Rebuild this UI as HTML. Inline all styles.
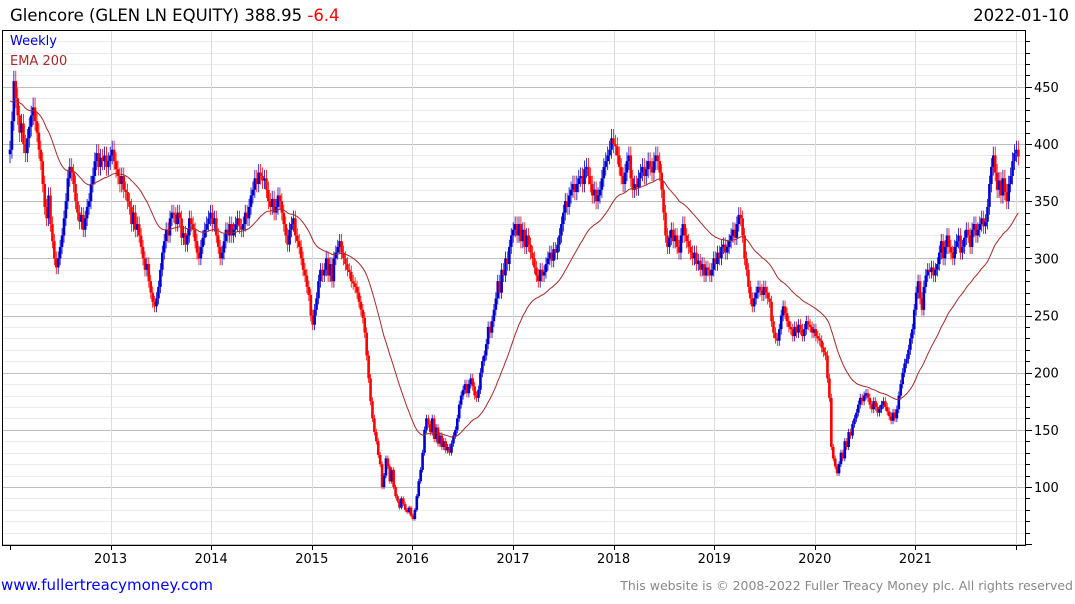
<!DOCTYPE html>
<html><head><meta charset="utf-8">
<style>
body{margin:0;background:#fff;width:1075px;height:600px;overflow:hidden;font-family:"DejaVu Sans",sans-serif}
svg text{font-family:"DejaVu Sans",sans-serif}
</style></head>
<body>
<svg id="chart" width="1075" height="600" xmlns="http://www.w3.org/2000/svg">
<text x="10" y="21" font-size="16.5" fill="#000">Glencore (GLEN LN EQUITY) 388.95 <tspan fill="#ff0000">-6.4</tspan></text>
<text x="1069" y="21" font-size="16.5" text-anchor="end" fill="#000">2022-01-10</text>
<g id="grid"></g>
<g id="candles"></g>
<path id="ema" fill="none" stroke="#a52a2a" stroke-width="1"></path>
<rect x="2.5" y="30.5" width="1023" height="515" fill="none" stroke="#000" stroke-width="1"/>
<g id="axes"></g>
<text x="10" y="45" font-size="13" fill="#0000cc">Weekly</text>
<text x="10" y="65" font-size="13" fill="#a52a2a">EMA 200</text>
<text x="1" y="590" font-size="15" fill="#0000ff">www.fullertreacymoney.com</text>
<text x="1073" y="590" font-size="12.5" text-anchor="end" fill="#888">This website is © 2008-2022 Fuller Treacy Money plc. All rights reserved</text>
</svg>
<script>
const y2012=[395,420,455,440,425,410,418,400,392,405,415,425,432,420,410,395,385,365,345,335,355,330,315,300,292,300,310,320,335,350,370,380,375,365,350,340,332,338,325,335,345,350,365,372,385,392,380,388,385,390,380,385];
const y2013=[390,395,385,378,372,365,372,360,358,350,345,330,340,325,330,320,310,300,290,295,280,270,262,258,265,275,290,305,315,325,320,335,340,338,330,340,335,318,322,312,320,335,330,325,315,305,300,310,318,325,330,335];
const y2014=[340,330,335,320,310,300,305,315,325,320,330,320,325,330,335,328,325,330,340,335,345,355,360,370,365,375,372,368,370,360,350,345,352,340,345,355,350,340,330,320,312,325,330,335,320,315,310,300,290,285,275,268];
const y2015=[250,242,255,265,280,290,285,290,300,285,295,280,300,305,310,315,305,300,295,290,288,280,278,275,270,262,255,248,235,215,195,175,160,148,140,128,120,100,110,125,118,105,115,100,92,88,82,90,85,80,78,82];
const y2016=[75,72,80,92,105,115,130,150,160,155,148,160,142,152,138,145,135,140,132,135,130,138,145,150,160,172,180,185,190,182,190,195,188,180,178,185,200,210,215,225,240,235,245,255,265,280,270,290,285,300,295,310];
const y2017=[320,325,330,320,330,315,325,310,320,312,305,300,292,285,280,290,285,288,295,300,305,298,308,305,312,320,330,340,350,345,355,360,365,358,365,370,372,365,378,380,372,365,355,360,350,355,360,370,380,385,390,395];
const y2018=[405,400,398,390,380,372,365,375,385,390,370,360,365,362,370,375,380,372,378,385,380,375,385,390,385,375,360,340,320,310,318,325,315,320,310,305,320,330,320,315,310,305,300,305,295,298,290,295,285,292,290,285];
const y2019=[290,300,295,305,300,310,312,305,310,315,320,325,318,330,338,335,320,300,290,275,265,258,265,270,275,272,268,275,270,265,262,245,235,230,228,238,250,258,252,245,240,238,232,240,235,242,238,232,238,245,242,240];
const y2020=[235,238,232,230,228,222,218,215,195,178,135,125,118,112,120,130,125,140,135,148,145,155,160,165,172,178,175,180,182,178,172,168,175,170,165,168,172,175,170,166,162,158,165,160,168,180,190,200,208,212,220,230];
const y2021=[238,255,270,280,265,255,275,285,290,288,292,285,290,295,305,315,300,310,320,310,305,300,310,315,320,305,310,318,325,320,310,325,330,320,325,330,335,328,332,345,365,380,390,375,360,368,355,370,358,350,365,372];
const y2022=[385,392,395,388.95];
const closes=[].concat(y2012,y2013,y2014,y2015,y2016,y2017,y2018,y2019,y2020,y2021,y2022);
const yTicks=[100,150,200,250,300,350,400,450];
const yearLabels=["2013","2014","2015","2016","2017","2018","2019","2020","2021"];
const NS="http://www.w3.org/2000/svg";
const yScale=v=>487-(v-100)*1.1433;
const xYear=yr=>10+(yr-2012)*100.6;
const xWeek=i=>10+i*1.928;
function mk(tag,attrs,parent){const e=document.createElementNS(NS,tag);for(const k in attrs)e.setAttribute(k,attrs[k]);parent.appendChild(e);return e;}
const grid=document.getElementById('grid'),axes=document.getElementById('axes'),cg=document.getElementById('candles');
for(let v=50;v<=500;v+=10){const y=Math.round(yScale(v))+0.5;if(y<31||y>545)continue;
 const major=v%50===0;
 const l=mk('line',{x1:3,x2:1026,y1:y,y2:y,stroke:major?'#bdbdbd':'#ebebeb','stroke-width':1},grid);
 
 
 const t=mk('line',{x1:1026,x2:major?1032:1030,y1:y,y2:y,stroke:'#000','stroke-width':1},axes);
 
 
}
yTicks.forEach(v=>{const t=mk('text',{x:1034,y:yScale(v)+5,'font-size':13,fill:'#000'},axes);t.textContent=v;
 
 });
for(let yr=2012;yr<=2022;yr++){const x=Math.round(xYear(yr))+0.5;
 if(yr>2012){const g=mk('line',{x1:x,x2:x,y1:31,y2:545,stroke:'#dcdcdc','stroke-width':1},grid);
 
 }
 const t=mk('line',{x1:x,x2:x,y1:545,y2:550,stroke:'#000','stroke-width':1},axes);
 
 }
yearLabels.forEach(s=>{const t=mk('text',{x:xYear(+s),y:563,'font-size':13,'text-anchor':'middle',fill:'#000'},axes);t.textContent=s;
 
 });
let prev=closes[0]*0.99;
closes.forEach((c,i)=>{const o=prev;prev=c;const up=c>=o;const col=up?'#0000d0':'#ff0000';
 const x=xWeek(i);const hi=Math.max(o,c)*1.02,lo=Math.min(o,c)*0.98;
 const g=mk('g',{},cg);
 
 
 mk('line',{x1:x,x2:x,y1:yScale(hi),y2:yScale(lo),stroke:col,'stroke-width':0.8},g);
 const t=yScale(Math.max(o,c)),b=yScale(Math.min(o,c));
 mk('rect',{x:x-1.3,y:t,width:2.6,height:Math.max(1,b-t),fill:col},g);
});
let e=440,d='';const a=2/41;
closes.forEach((c,i)=>{e=e+a*(c-e);d+=(i?'L':'M')+xWeek(i).toFixed(1)+','+yScale(e).toFixed(1);});
document.getElementById('ema').setAttribute('d',d);
</script>
</body></html>
